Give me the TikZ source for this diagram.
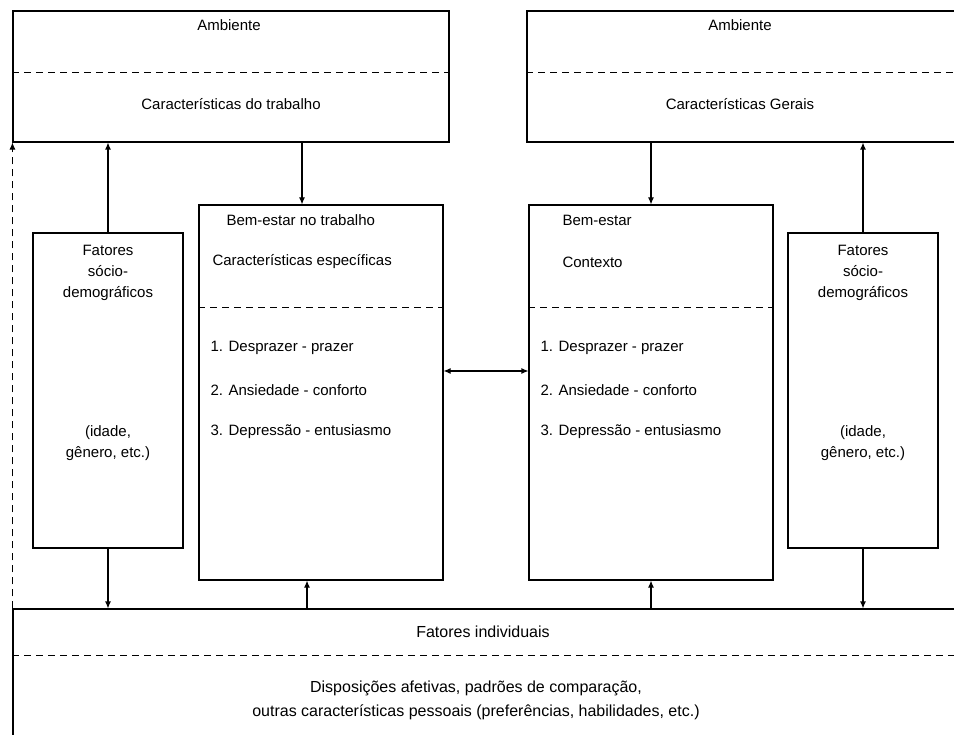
\documentclass[tikz,border=0pt]{standalone}
\usepackage{fontspec}
\setmainfont{Liberation Sans}
\usetikzlibrary{arrows.meta,positioning}

\begin{document}
\begin{tikzpicture}[x=1pt, y=-1pt,
    font=\fontsize{15}{21}\selectfont,
    line width=1.1pt,
    box/.style={
        draw,
        inner sep=0pt
    },
    lbl/.style={
        inner sep=0pt,
        align=center
    },
    item/.style={
        inner sep=0pt,
        anchor=west
    },
    sep/.style={
        line width=0.9pt,
        dash pattern=on 7pt off 5pt
    },
    >={Latex[length=7pt, width=6pt]}
]
\clip (0,0) rectangle (954,735);

% boxes
\node[box, minimum width=436pt, minimum height=131pt] (trabalho) at (231,76.5) {};
\node[box, minimum width=437pt, minimum height=131pt] (gerais) at (745.5,76.5) {};
\node[box, minimum width=150pt, minimum height=315pt] (fatL) at (108,390.5) {};
\node[box, minimum width=150pt, minimum height=315pt] (fatR) at (863,390.5) {};
\node[box, minimum width=244pt, minimum height=375pt] (bemL) at (321,392.5) {};
\node[box, minimum width=244pt, minimum height=375pt] (bemR) at (651,392.5) {};
\node[box, minimum width=951pt, minimum height=136pt] (indiv) at (488.5,677) {};

% dashed separators
\coordinate (s1) at (0,72);
\coordinate (s2) at (0,307);
\coordinate (s3) at (0,655);
\draw[sep] (trabalho.west |- s1) -- (trabalho.east |- s1);
\draw[sep] (gerais.west |- s1) -- (gerais.east |- s1);
\draw[sep] (bemL.west |- s2) -- (bemL.east |- s2);
\draw[sep] (bemR.west |- s2) -- (bemR.east |- s2);
\draw[sep] (indiv.west |- s3) -- (indiv.east |- s3);

% texts
\node[lbl] (amb1) at (229,25) {Ambiente};
\node[lbl] (cartrab) at (231,104) {Características do trabalho};
\node[lbl] (amb2) at (740,25) {Ambiente};
\node[lbl] (cargerais) at (740,104) {Características Gerais};

\node[lbl] (sociL) at (108,273) {Fatores\\sócio-\\demográficos};
\node[lbl] (idadeL) at (108,443.5) {(idade,\\gênero, etc.)};
\node[lbl] (sociR) at (863,273) {Fatores\\sócio-\\demográficos};
\node[lbl] (idadeR) at (863,443.5) {(idade,\\gênero, etc.)};

\node[item] (bemtit) at (226,220) {Bem-estar no trabalho};
\node[item] (especif) at (212,262) {Características específicas};
\node[item] (l1) at (210,348) {1. Desprazer - prazer};
\node[item] (l2) at (210,390) {2. Ansiedade - conforto};
\node[item] (l3) at (210,432) {3. Depressão - entusiasmo};

\node[item] (bemger) at (562,220) {Bem-estar};
\node[item] (contexto) at (562,262) {Contexto};
\node[item] (r1) at (540,348) {1. Desprazer - prazer};
\node[item] (r2) at (540,390) {2. Ansiedade - conforto};
\node[item] (r3) at (540,432) {3. Depressão - entusiasmo};

\node[lbl, font=\fontsize{16}{21}\selectfont] (indtit) at (483,632) {Fatores individuais};
\node[lbl, font=\fontsize{16}{21}\selectfont] (disp1) at (476,688) {Disposições afetivas, padrões de comparação,};
\node[lbl, font=\fontsize{16}{21}\selectfont] (disp2) at (476,712) {outras características pessoais (preferências, habilidades, etc.)};

% connectors
\coordinate (xa) at (302,0);
\coordinate (xb) at (307,0);
\coordinate (ya) at (0,371);
\draw[->] (trabalho.south -| xa) -- (bemL.north -| xa);
\draw[->] (gerais.south -| bemR.north) -- (bemR.north);
\draw[->] (fatL.north) -- (trabalho.south -| fatL.north);
\draw[->] (fatR.north) -- (gerais.south -| fatR.north);
\draw[->] (fatL.south) -- (indiv.north -| fatL.south);
\draw[->] (fatR.south) -- (indiv.north -| fatR.south);
\draw[->] (indiv.north -| xb) -- (bemL.south -| xb);
\draw[->] (indiv.north -| bemR.south) -- (bemR.south);
\draw[<->] (bemL.east |- ya) -- (bemR.west |- ya);
\draw[->, sep] (indiv.north west) -- (trabalho.south west);
\end{tikzpicture}
\end{document}
